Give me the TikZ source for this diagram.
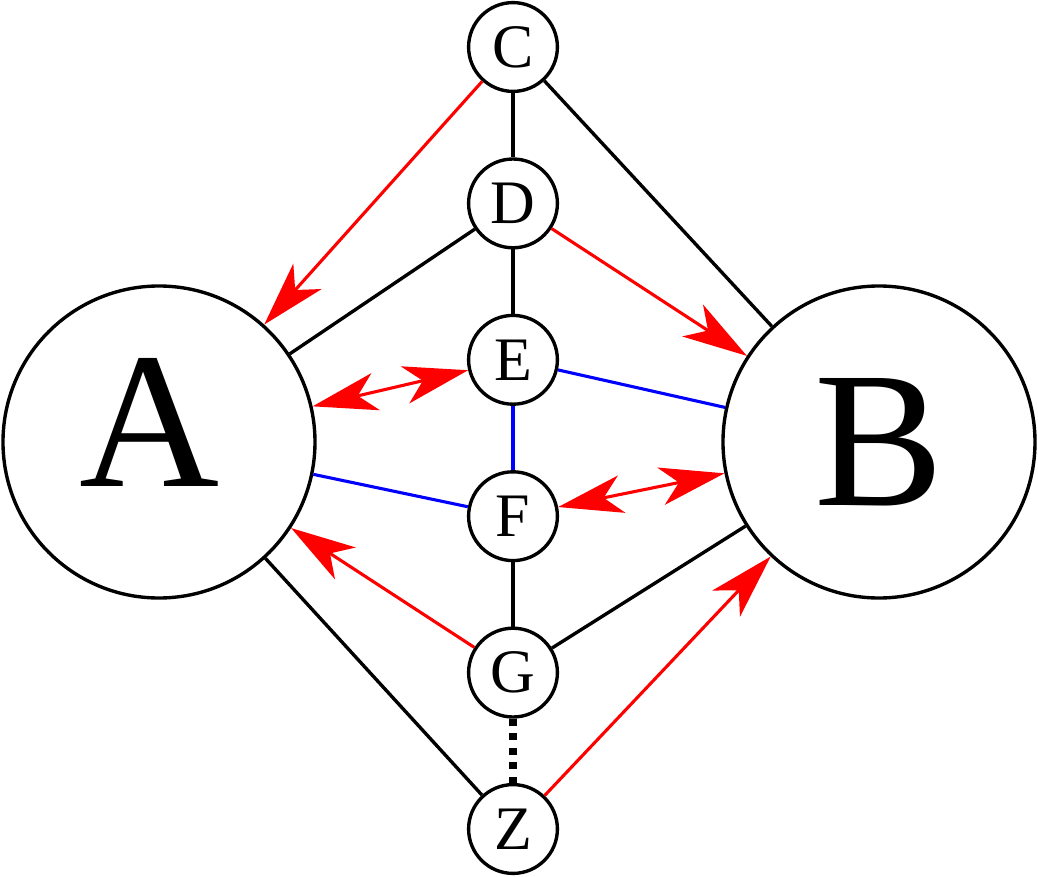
\documentclass[tikz,border=0pt]{standalone}
\usepackage{fontspec}
\setmainfont{Liberation Serif}
\usetikzlibrary{arrows.meta}

\begin{document}
\begin{tikzpicture}[line width=2.4pt,
        >={Stealth[length=46pt,width=27pt,inset=13pt]},
        big/.style={circle,draw,minimum size=7.8cm,inner sep=0pt,font=\fontsize{138}{150}\selectfont},
        small/.style={circle,draw,minimum size=2.22cm,inner sep=0pt,font=\fontsize{44}{50}\selectfont},
        redline/.style={red,line width=2.2pt},
        blueline/.style={blue,line width=2.2pt},
        dotline/.style={line width=5.6pt,dash pattern=on 5pt off 5.3pt}]

        \useasboundingbox (-12.825,-10.85) rectangle (13.125,11.05);

        \node[big] (A) at (-8.85,0) {\raisebox{14pt}[\height][\depth]{A}\kern13pt};
        \node[big] (B) at (9.15,0) {B};

        \node[small] (C) at (0,9.875) {C};
        \node[small] (D) at (0,5.965) {D};
        \node[small] (E) at (0,2.055) {E};
        \node[small] (F) at (0,-1.855) {F};
        \node[small] (G) at (0,-5.765) {G};
        \node[small] (Z) at (0,-9.675) {Z};

        \draw (C) -- (D);
        \draw (D) -- (E);
        \draw[blueline] (E) -- (F);
        \draw (F) -- (G);
        \draw[dotline] (G) -- (Z);

        \draw (C) -- (B);
        \draw (A) -- (D);
        \draw (G) -- (B);
        \draw (A) -- (Z);
        \draw[blueline] (E) -- (B);
        \draw[blueline] (A) -- (F);

        \draw[redline,->] (C) -- (A);
        \draw[redline,->] (D) -- (B);
        \draw[redline,->] (G) -- (A);
        \draw[redline,->] (Z) -- (B);
        \draw[redline,<->] (A) -- (E);
        \draw[redline,<->] (F) -- (B);

\end{tikzpicture}
\end{document}
